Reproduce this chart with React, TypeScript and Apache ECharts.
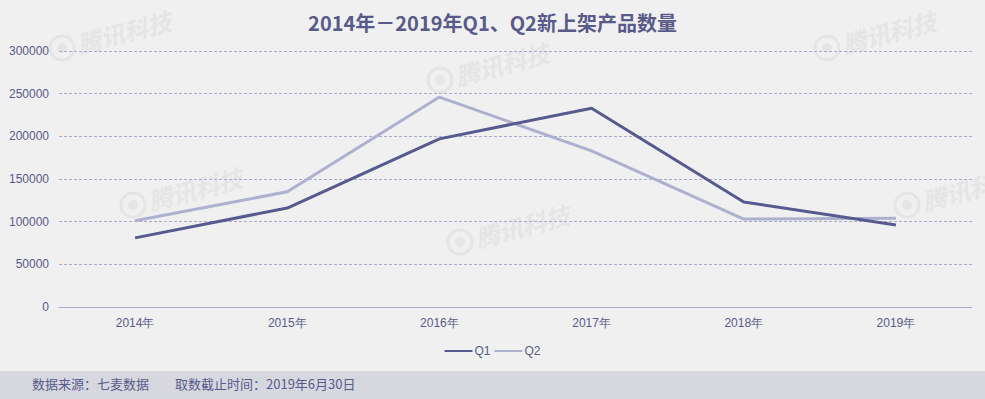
import React, { useEffect, useRef } from "react";
import * as echarts from "echarts";

const categories = ["2014年", "2015年", "2016年", "2017年", "2018年", "2019年"];
const q1Values = [81000, 116000, 197000, 233000, 123000, 96000];
const q2Values = [101000, 135000, 246000, 183000, 103000, 104000];
const seriesNames = ["Q1", "Q2"];
const titleText = "2014年－2019年Q1、Q2新上架产品数量";
const footerText = "数据来源：七麦数据　　取数截止时间：2019年6月30日";
const watermarkText = "腾讯科技";
const watermarkSpots = [
  [62, 48],
  [440, 80],
  [827, 48],
  [133, 205],
  [460, 242],
  [907, 205],
];

function watermark(cx: number, cy: number) {
  const col = "#e5e5e5";
  return {
    type: "group",
    x: cx,
    y: cy,
    rotation: 0.26,
    silent: true,
    z: 0,
    children: [
      { type: "circle", shape: { cx: 0, cy: 0, r: 12 }, style: { fill: "none", stroke: col, lineWidth: 3 } },
      { type: "circle", shape: { cx: 0, cy: 0, r: 5 }, style: { fill: col } },
      {
        type: "text",
        x: 16,
        y: 0,
        style: {
          text: watermarkText,
          fill: col,
          font: "italic bold 24px 'Noto Sans CJK SC', sans-serif",
          textVerticalAlign: "middle",
          verticalAlign: "middle",
        },
      },
    ],
  };
}

export default function App() {
  const ref = useRef<HTMLDivElement>(null);
  useEffect(() => {
    if (!ref.current) return;
    const chart = echarts.init(ref.current, null, { renderer: "svg" });
    const textColor = "#585a8a";
    chart.setOption({
      animation: false,
      backgroundColor: "#f0f0f0",
      title: {
        text: titleText,
        left: "center",
        top: 7,
        textStyle: {
          color: "#585a8a",
          fontSize: 20,
          fontWeight: "bold",
          fontFamily: "'Noto Sans CJK SC', sans-serif",
        },
      },
      legend: {
        data: seriesNames,
        bottom: 37,
        left: "center",
        itemWidth: 28,
        itemHeight: 10,
        itemGap: 4,
        icon: "path://M0,4 L28,4 L28,6 L0,6 Z",
        textStyle: { color: textColor, fontSize: 12, padding: [0, 0, 0, -3] },
      },
      grid: { left: 59, right: 13, top: 51, bottom: 92 },
      xAxis: {
        type: "category",
        data: categories,
        boundaryGap: true,
        axisLine: { lineStyle: { color: "#a9abcc", width: 1 } },
        axisTick: { show: false },
        axisLabel: { color: textColor, fontSize: 12, margin: 10 },
      },
      yAxis: {
        type: "value",
        min: 0,
        max: 300000,
        interval: 50000,
        axisLine: { show: false },
        axisTick: { show: false },
        axisLabel: { color: textColor, fontSize: 12, margin: 10, formatter: (v: number) => String(v) },
        splitLine: { lineStyle: { color: "#a9abcc", type: [3, 2], width: 1 } },
      },
      series: [
        {
          name: seriesNames[0],
          type: "line",
          data: q1Values,
          symbol: "none",
          lineStyle: { color: "#575a8e", width: 3 },
          itemStyle: { color: "#575a8e" },
          z: 3,
        },
        {
          name: seriesNames[1],
          type: "line",
          data: q2Values,
          symbol: "none",
          lineStyle: { color: "#aeb0cf", width: 3 },
          itemStyle: { color: "#aeb0cf" },
          z: 2,
        },
      ],
      graphic: [
        ...watermarkSpots.map(([x, y]) => watermark(x, y)),
        {
          type: "rect",
          left: 0,
          top: 371,
          shape: { width: 985, height: 28 },
          style: { fill: "#d7d7e0" },
          z: -1,
        },
        {
          type: "text",
          left: 32,
          top: 377,
          style: {
            text: footerText,
            fill: textColor,
            font: "13px 'Noto Sans CJK SC', sans-serif",
          },
        },
      ],
    });
    return () => chart.dispose();
  }, []);
  return (
    <div
      ref={ref}
      style={{ position: "absolute", left: 0, top: 0, width: 985, height: 399 }}
    />
  );
}
